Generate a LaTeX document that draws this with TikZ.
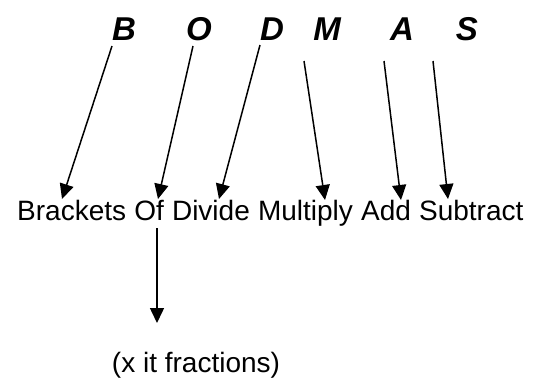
\documentclass[tikz,border=0pt]{standalone}
\usepackage{fontspec}
\setmainfont{Liberation Sans}
\usetikzlibrary{arrows.meta,calc}
\begin{document}
\begin{tikzpicture}[x=1pt,y=-1pt,
  letter/.style={inner sep=0pt,anchor=base,font=\fontsize{33}{38}\selectfont\bfseries\itshape},
  word/.style={inner sep=0pt,anchor=base west,font=\fontsize{28}{33}\selectfont},
  arr/.style={line width=1.5pt,-{Triangle[length=15pt,width=14pt]}}]
\useasboundingbox (0,0) rectangle (544,378);
% top letters
\node[letter] (B) at (124,40) {B};
\node[letter] (O) at (199,40) {O};
\node[letter] (D) at (272,40) {D};
\node[letter] (M) at (327,40) {M};
\node[letter] (A) at (402,40) {A};
\node[letter] (S) at (467,40) {S};
% words
\node[word] (brackets) at (17,220) {Brackets};
\node[word] (of) at ([xshift=7.78pt]brackets.base east) {Of};
\node[word] (divide) at ([xshift=7.78pt]of.base east) {Divide};
\node[word] (multiply) at ([xshift=7.78pt]divide.base east) {Multiply};
\node[word] (add) at ([xshift=7.78pt]multiply.base east) {Add};
\node[word] (subtract) at ([xshift=7.78pt]add.base east) {Subtract};
\node[word,anchor=base] (frac) at (196,372) {(x it fractions)};
% arrow ends
\coordinate (bs) at (112,46);  \coordinate (bt) at (62,199);
\coordinate (os) at (193,46);  \coordinate (ot) at (158,199);
\coordinate (ds) at (260,45);  \coordinate (dt) at (219,199);
\coordinate (ms) at (304,61);  \coordinate (mt) at (325,200);
\coordinate (as) at (384,61);  \coordinate (at) at (401,200);
\coordinate (ss) at (433,61);  \coordinate (st) at (448,199);
\coordinate (fs) at (157,228); \coordinate (ft) at (157,323);
\draw[arr] (bs) -- (bt);
\draw[arr] (os) -- (ot);
\draw[arr] (ds) -- (dt);
\draw[arr] (ms) -- (mt);
\draw[arr] (as) -- (at);
\draw[arr] (ss) -- (st);
\draw[arr] (fs) -- (ft);
\end{tikzpicture}
\end{document}
